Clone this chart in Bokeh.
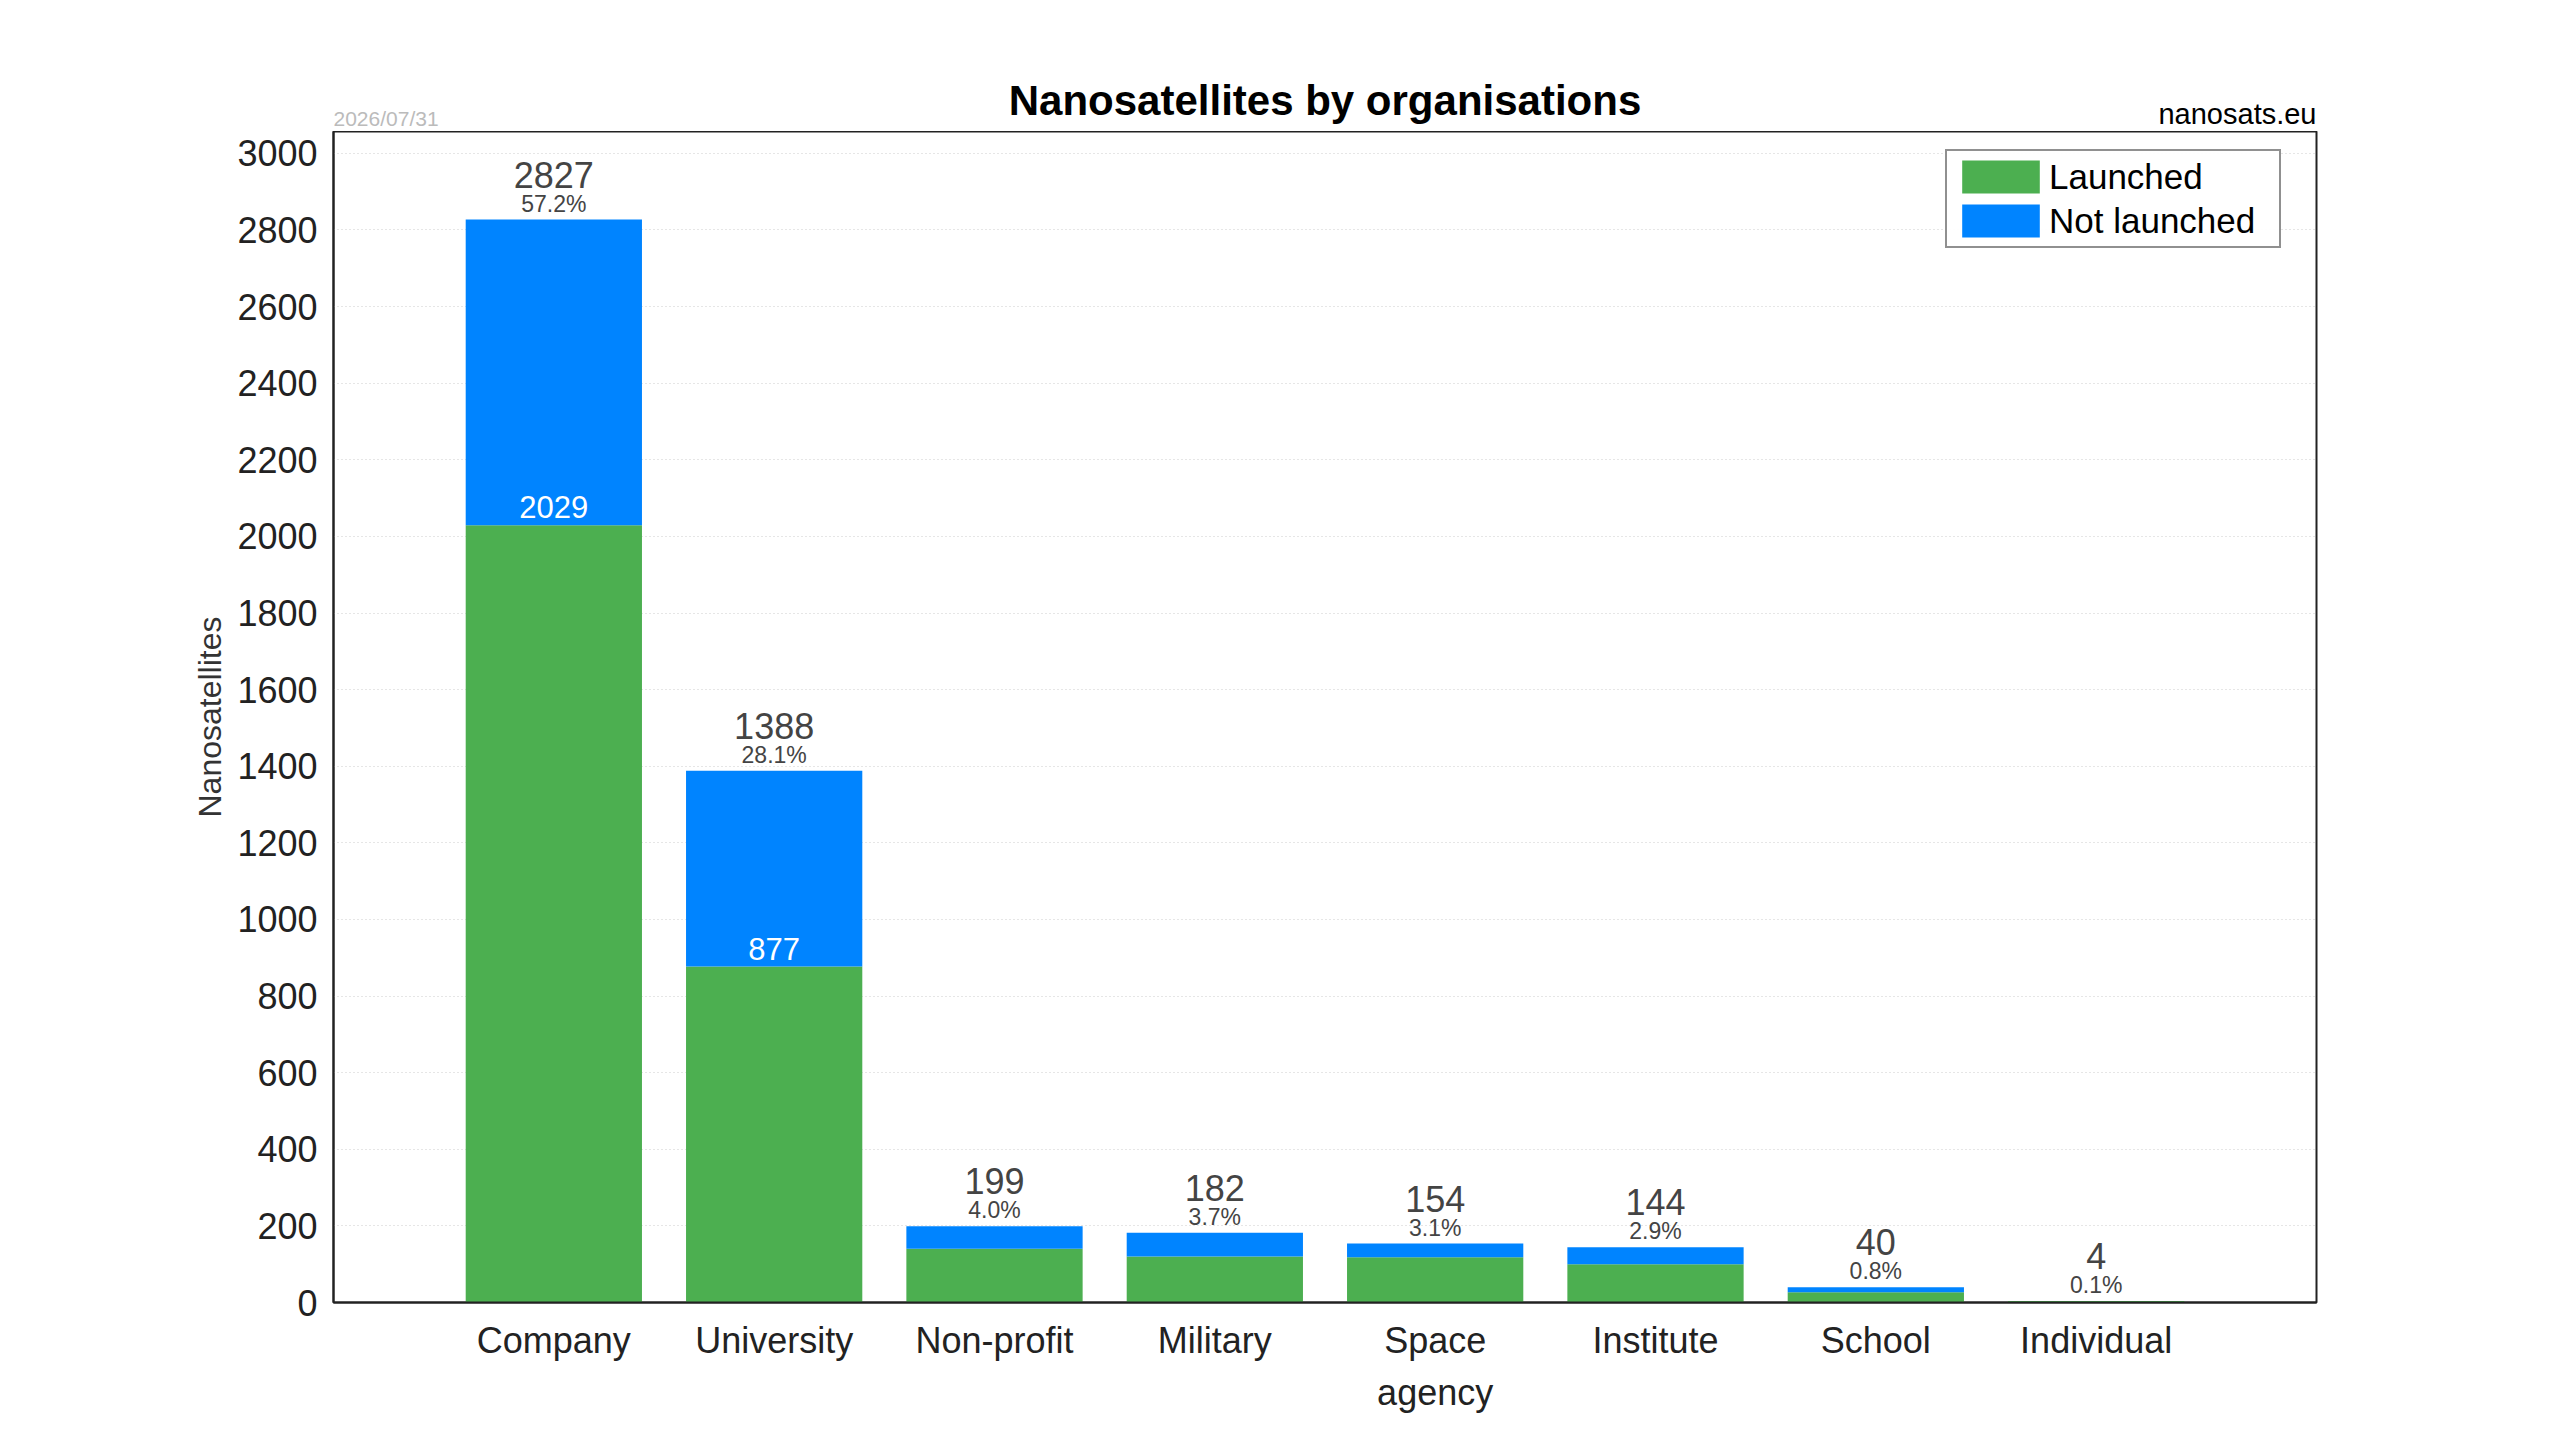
import json
from bokeh.plotting import figure
from bokeh.layouts import column
from bokeh.models import (ColumnDataSource, SingleIntervalTicker, FactorRange, Range1d,
                          CustomJSTickFormatter)
from bokeh.core.properties import value
from bokeh.embed import file_html
from bokeh.resources import INLINE

FONT = "Liberation Sans"

orgs = ["Company", "University", "Non-profit", "Military", "Space agency",
        "Institute", "School", "Individual"]
org_labels = ["Company", "University", "Non-profit", "Military", "Space\nagency",
              "Institute", "School", "Individual"]
launched = [2029, 877, 140, 120, 118, 100, 27, 4]
not_launched = [798, 511, 59, 62, 36, 44, 13, 0]

GREEN = "#4caf50"
BLUE = "#0084ff"

W = 2544
LEFT, RIGHT = 333, 228
HEAD_H = 131
FRAME_H = 1171
BOTTOM = 66
STRIP_H = 1424 - HEAD_H - FRAME_H - BOTTOM

totals = [a + b for a, b in zip(launched, not_launched)]
grand = sum(totals)
pct = ["%.1f%%" % (100.0 * t / grand) for t in totals]

src = ColumnDataSource(dict(org=orgs, launched=launched, not_launched=not_launched,
                            total=totals, total_txt=[str(t) for t in totals], pct=pct))

# launched count shown only where the blue part is tall enough to hold it
inner = [i for i in range(len(orgs)) if not_launched[i] >= 300]
inner_src = ColumnDataSource(dict(org=[orgs[i] for i in inner],
                                  y=[launched[i] for i in inner],
                                  txt=[str(launched[i]) for i in inner]))

xr = FactorRange(*orgs, range_padding=0.5, range_padding_units="absolute")


def bare(fig):
    fig.xgrid.grid_line_color = None
    fig.ygrid.grid_line_color = None
    fig.outline_line_color = None
    fig.background_fill_color = None
    fig.border_fill_color = None
    return fig


# ---- header: title, date, source
fw = W - LEFT - RIGHT
head = bare(figure(width=W, height=HEAD_H, output_backend="svg", toolbar_location=None,
                   x_range=Range1d(0, fw), y_range=Range1d(0, HEAD_H),
                   x_axis_location=None, y_axis_location=None,
                   min_border_left=LEFT, min_border_right=RIGHT,
                   min_border_top=0, min_border_bottom=0))
head.text(x=[fw / 2], y=[31], text=["Nanosatellites by organisations"],
          text_align="center", text_baseline="middle", text_color="black",
          text_font=value(FONT), text_font_size="42px", text_font_style="bold")
head.text(x=[fw], y=[18], text=["nanosats.eu"], text_align="right",
          text_baseline="middle", text_color="black",
          text_font=value(FONT), text_font_size="29px")
head.text(x=[0], y=[13], text=["2026/07/31"], text_align="left",
          text_baseline="middle", text_color="#bbbbbb",
          text_font=value(FONT), text_font_size="21px")

# ---- main chart
p = figure(width=W, height=FRAME_H + BOTTOM, output_backend="svg", toolbar_location=None,
           x_range=xr, y_range=Range1d(0, 3057),
           min_border_left=LEFT, min_border_top=0, min_border_right=RIGHT,
           min_border_bottom=BOTTOM)

p.vbar_stack(["launched", "not_launched"], x="org", width=0.8, source=src,
             fill_color=[GREEN, BLUE], line_color=None,
             legend_label=["Launched", "Not launched"])

p.text(x="org", y="total", text="total_txt", source=src, y_offset=-45,
       text_align="center", text_baseline="middle", text_color="#444444",
       text_font=value(FONT), text_font_size="36px")
p.text(x="org", y="total", text="pct", source=src, y_offset=-16,
       text_align="center", text_baseline="middle", text_color="#444444",
       text_font=value(FONT), text_font_size="23px")
p.text(x="org", y="y", text="txt", source=inner_src, y_offset=-18,
       text_align="center", text_baseline="middle", text_color="white",
       text_font=value(FONT), text_font_size="31px")

# first line of each category label on the axis, second lines drawn below it
first_lines = {o: lab.split("\n")[0] for o, lab in zip(orgs, org_labels)}
second = [(o, lab.split("\n")[1]) for o, lab in zip(orgs, org_labels) if "\n" in lab]

for ax in (p.xaxis, p.yaxis):
    ax.major_label_text_font = FONT
    ax.major_label_text_font_size = "36px"
    ax.major_label_text_color = "#222222"
    ax.major_tick_line_color = None
    ax.minor_tick_line_color = None
    ax.axis_line_color = "#222222"
    ax.axis_line_width = 2
p.xaxis.formatter = CustomJSTickFormatter(
    code="const m = %s; return (tick in m) ? m[tick] : tick;" % json.dumps(first_lines))
p.xaxis.major_label_standoff = 11
p.yaxis.major_label_standoff = 10
p.yaxis.ticker = SingleIntervalTicker(interval=200)
p.yaxis.axis_label = "Nanosatellites"
p.yaxis.axis_label_text_font = FONT
p.yaxis.axis_label_text_font_style = "normal"
p.yaxis.axis_label_text_font_size = "32px"
p.yaxis.axis_label_text_color = "#333333"
p.yaxis.axis_label_standoff = 6

p.xgrid.grid_line_color = None
p.ygrid.grid_line_color = "#cccccc"
p.ygrid.grid_line_dash = "1 3"
p.ygrid.grid_line_width = 1
p.outline_line_color = "#222222"
p.outline_line_width = 2

lg = p.legend[0]
lg.location = (1612, 1054)
lg.label_text_font = FONT
lg.label_text_font_size = "35px"
lg.label_text_color = "black"
lg.glyph_width = 97
lg.glyph_height = 41
lg.label_width = 225
lg.label_standoff = 0
lg.spacing = 3
lg.padding = 5
lg.margin = 0
lg.border_line_color = "#222222"
lg.border_line_width = 2

# ---- second lines of wrapped category labels (shares the bar chart's x range)
strip = bare(figure(width=W, height=STRIP_H, output_backend="svg", toolbar_location=None,
                    x_range=xr, y_range=Range1d(0, STRIP_H),
                    x_axis_location=None, y_axis_location=None,
                    min_border_left=LEFT, min_border_right=RIGHT,
                    min_border_top=0, min_border_bottom=0))
strip.text(x=[o for o, _ in second], y=[STRIP_H - 24] * len(second),
           text=[t for _, t in second], text_align="center", text_baseline="middle",
           text_color="#222222", text_font=value(FONT), text_font_size="36px")

layout = column(head, p, strip, spacing=0)
open("out.html", "w").write(file_html(layout, INLINE))
